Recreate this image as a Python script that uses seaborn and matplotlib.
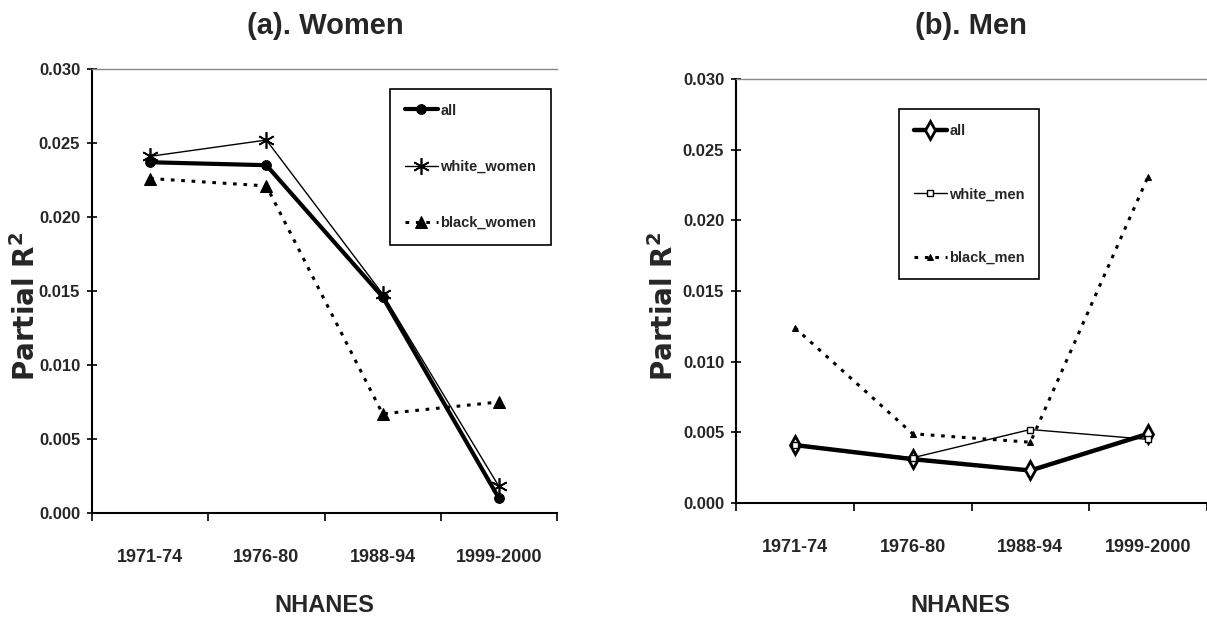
import numpy as np
import pandas as pd
import matplotlib
matplotlib.use('Agg')
import matplotlib.pyplot as plt
import seaborn as sns
from matplotlib import font_manager

# survey waves
waves = ["1971-74", "1976-80", "1988-94", "1999-2000"]

# (a) women
women_all = [0.0237, 0.0235, 0.0146, 0.0010]
women_white = [0.0241, 0.0252, 0.0148, 0.0018]
women_black = [0.0226, 0.0221, 0.0067, 0.0075]

# (b) men
men_all = [0.0041, 0.0031, 0.0023, 0.0049]
men_white = [0.0041, 0.0032, 0.0052, 0.0045]
men_black = [0.0124, 0.0049, 0.0043, 0.0231]

yticks = [0.000, 0.005, 0.010, 0.015, 0.020, 0.025, 0.030]

sns.set_theme(style="white")

installed = {f.name for f in font_manager.fontManager.ttflist}
narrow = "Liberation Sans Narrow" if "Liberation Sans Narrow" in installed else "Liberation Sans"
plt.rcParams['font.family'] = ['Liberation Sans', 'DejaVu Sans']

fig = plt.figure(figsize=(12.07, 6.21), dpi=100)
W, H = 1207, 621

def box(x0, x1, ytop, ybot):
    return [x0 / W, 1 - ybot / H, (x1 - x0) / W, (ybot - ytop) / H]

ax1 = fig.add_axes(box(92, 557, 69, 513))
ax2 = fig.add_axes(box(736, 1207, 79, 503))

def draw(ax, series):
    for label, vals, kw in series:
        df = pd.DataFrame({"wave": waves, "r2": vals})
        sns.lineplot(data=df, x="wave", y="r2", ax=ax, label=label,
                     color="black", sort=False, **kw)

draw(ax1, [
    ("all", women_all, dict(lw=3, marker="o", ms=7, mec="black")),
    ("white_women", women_white, dict(lw=1, marker=(6, 2, 0), ms=12, mew=1.2, mec="black")),
    ("black_women", women_black, dict(lw=2.2, linestyle=(0, (1.2, 2.2)), marker="^", ms=8, mec="black")),
])
draw(ax2, [
    ("all", men_all, dict(lw=3.2, marker="d", ms=9, mfc="white", mec="black", mew=2)),
    ("white_men", men_white, dict(lw=1, marker="s", ms=5, mfc="white", mec="black", mew=1)),
    ("black_men", men_black, dict(lw=2.2, linestyle=(0, (1.2, 2.2)), marker="^", ms=5, mec="black")),
])

for ax in (ax1, ax2):
    ax.set_xlim(-0.5, 3.5)
    ax.set_ylim(0, 0.030)
    ax.set_yticks(yticks)
    ax.set_yticklabels([f"{v:.3f}" for v in yticks], family=narrow,
                       fontweight="bold", fontsize=12)
    ax.set_xticks(range(len(waves)))
    ax.set_xticklabels(waves, family=narrow, fontweight="bold", fontsize=13)
    ax.set_xticks(np.arange(-0.5, 3.6, 1), minor=True)
    ax.tick_params(axis="x", which="major", length=0, pad=26)
    ax.tick_params(axis="x", which="minor", length=6, width=1.2,
                   direction="out", color="black", bottom=True)
    ax.tick_params(axis="y", length=7, width=1.2, direction="inout",
                   color="black", left=True, pad=5)
    ax.set_xlabel("")
    ax.set_ylabel("")
    for s in ("left", "bottom"):
        ax.spines[s].set_color("black")
        ax.spines[s].set_linewidth(1.5)
    ax.spines["top"].set_color("#888888")
    ax.spines["top"].set_linewidth(1)
    ax.spines["right"].set_visible(False)
    ax.set_facecolor("white")

leg_kw = dict(loc="upper left", frameon=True, fancybox=False, framealpha=1,
              edgecolor="black", handlelength=2.3, handletextpad=0.15,
              borderpad=1.0, borderaxespad=0,
              prop=dict(family=narrow, weight="bold", size=10.5))
l1 = ax1.legend(bbox_to_anchor=(0.641, 0.955), labelspacing=2.9, **leg_kw)
l2 = ax2.legend(bbox_to_anchor=(0.346, 0.929), labelspacing=3.4, **leg_kw)
for l in (l1, l2):
    l.get_frame().set_linewidth(1.2)

# panel titles
fig.text(325 / W, 1 - 34 / H, "(a). Women", ha="center", va="baseline",
         fontsize=21, fontweight="bold")
fig.text(971 / W, 1 - 34 / H, "(b). Men", ha="center", va="baseline",
         fontsize=21, fontweight="bold")

# axis labels
for x in (26, 664):
    fig.text(x / W, 1 - 307 / H, "Partial R$^\\mathbf{2}$", rotation=90,
             ha="center", va="center", fontsize=20, fontweight="bold",
             family=["DejaVu Sans"])
for x in (324, 960):
    fig.text(x / W, 1 - 605 / H, "NHANES", ha="center", va="center",
             fontsize=17, fontweight="bold", family=narrow)

fig.savefig("out.png", dpi=100, facecolor="white")
plt.close(fig)
